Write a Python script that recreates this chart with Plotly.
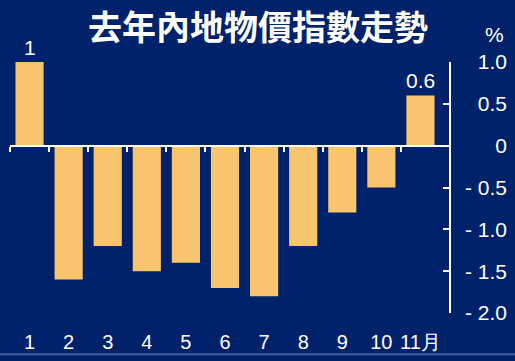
import plotly.graph_objects as go

months = [1, 2, 3, 4, 5, 6, 7, 8, 9, 10, 11]
month_labels = ["1", "2", "3", "4", "5", "6", "7", "8", "9", "10", "11月"]
values = [1.0, -1.6, -1.2, -1.5, -1.4, -1.7, -1.8, -1.2, -0.8, -0.5, 0.6]
bar_labels = ["1", "", "", "", "", "", "", "", "", "", "0.6"]
y_tickvals = [1.0, 0.5, 0.0, -0.5, -1.0, -1.5, -2.0]
y_ticktext = ["1.0", "0.5", "0", "- 0.5", "- 1.0", "- 1.5", "- 2.0"]
boundaries = [0.5, 1.5, 2.5, 3.5, 4.5, 5.5, 6.5, 7.5, 8.5, 9.5, 10.5]
title_text = "去年內地物價指數走勢"

BG = "#00226A"
BAR = "#F9C46E"
FONT = "Liberation Sans, Arial, sans-serif"

W, H = 515, 361
ML, MR, MT, MB = 10, 8, 62, 43
plot_right = 449
plot_w = W - ML - MR
plot_h = H - MT - MB
x_dom_end = (plot_right - ML) / plot_w
yr = [-2.0, 1.0]
xr = [0.5, 11.73]

fig = go.Figure()
fig.add_trace(go.Bar(
    x=months, y=values, width=0.72,
    marker=dict(color=BAR, line=dict(width=0)),
    cliponaxis=False, xaxis="x", yaxis="y",
))
fig.add_trace(go.Scatter(x=[None], y=[None], xaxis="x", yaxis="y2",
                         showlegend=False, hoverinfo="skip"))
fig.add_trace(go.Scatter(x=[None], y=[None], xaxis="x2", yaxis="y",
                         showlegend=False, hoverinfo="skip"))

zero_pos = (0 - yr[0]) / (yr[1] - yr[0])

annotations = []
for m, v, lab in zip(months, values, bar_labels):
    if lab:
        annotations.append(dict(text=lab, x=m, y=v, xref="x", yref="y",
                                xanchor="center", yanchor="bottom", yshift=1,
                                showarrow=False,
                                font=dict(color="white", size=21, family=FONT)))
annotations.append(dict(text="%", xref="paper", yref="paper",
                        x=(494.5 - ML) / plot_w, y=1 + (MT - 34) / plot_h,
                        xanchor="center", yanchor="middle", showarrow=False,
                        font=dict(color="white", size=21, family=FONT)))

fig.update_layout(
    width=W, height=H,
    margin=dict(l=ML, r=MR, t=MT, b=MB),
    paper_bgcolor=BG, plot_bgcolor=BG,
    showlegend=False,
    title=dict(text=title_text, x=258 / W, xref="container", xanchor="center",
               y=1 - 28 / H, yref="container", yanchor="middle",
               font=dict(family="Noto Sans CJK TC", size=34, color="white", weight="bold")),
    xaxis=dict(domain=[0, x_dom_end], range=xr, tickvals=months, ticktext=month_labels,
               showline=False, showgrid=False, zeroline=False, ticks="",
               ticklabelstandoff=15,
               tickfont=dict(color="white", size=20, family=FONT)),
    xaxis2=dict(overlaying="x", anchor="free", position=zero_pos, range=xr,
                tickvals=boundaries, ticks="outside", ticklen=5, tickwidth=2,
                tickcolor="white", showline=True, linecolor="white", linewidth=2,
                showticklabels=False, showgrid=False, zeroline=False, side="bottom"),
    yaxis=dict(range=yr, side="right", anchor="x", showline=True, linecolor="white",
               linewidth=2, ticks="inside", ticklen=6, tickwidth=2, tickcolor="white",
               tickvals=y_tickvals, showticklabels=False, showgrid=False, zeroline=False),
    yaxis2=dict(range=yr, overlaying="y", side="left", anchor="free", position=1.0,
                tickvals=y_tickvals, ticktext=y_ticktext, ticks="", showline=False,
                showgrid=False, zeroline=False,
                tickfont=dict(color="white", size=21, family=FONT)),
    annotations=annotations,
    shapes=[dict(type="rect", xref="paper", yref="paper",
                 x0=-ML / plot_w, x1=1 + MR / plot_w,
                 y0=-MB / plot_h, y1=-(MB - 2) / plot_h,
                 fillcolor="#3D5E9E", line=dict(width=0), layer="above")],
)

fig.write_html("out.html")
